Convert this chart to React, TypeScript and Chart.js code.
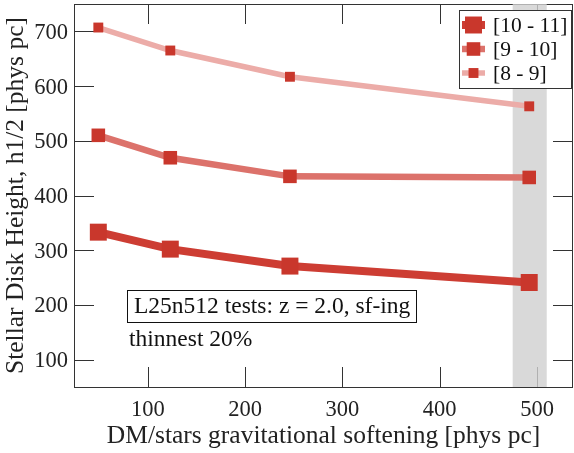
import React, { useEffect, useRef } from "react";
import { Chart, registerables } from "chart.js";

Chart.register(...registerables);

// ---- data ----
const softening = [49, 123, 246, 492];
const h10to11 = [333, 302, 271, 241];
const h9to10 = [510, 469, 435, 433];
const h8to9 = [707, 665, 617, 563];
const seriesLabels = ["[10 - 11]", "[9 - 10]", "[8 - 9]"];
const xTickValues = [100, 200, 300, 400, 500];
const yTickValues = [100, 200, 300, 400, 500, 600, 700];
const bandRange = [475, 510];
const noteBoxText = "L25n512 tests: z = 2.0, sf-ing";
const noteText = "thinnest 20%";
const xTitle = "DM/stars gravitational softening [phys pc]";
const yTitle = "Stellar Disk Height, h1/2 [phys pc]";

const FONT = "'Liberation Serif', 'DejaVu Serif', serif";
const MARKER = "#c9372c";
const LINE_COLORS = ["#cd3d33", "#dc726b", "#ecaca8"];
const LINE_WIDTHS = [8, 6.5, 5.5];
const MARKER_RADII = [12, 9.6, 7];
const TICK_LEN = 20;
const TEXT = "#222222";

const decorPlugin = {
  id: "decor",
  beforeDatasetsDraw(chart: any) {
    const { ctx, chartArea: a, scales } = chart;
    const x = scales.x;
    const y = scales.y;
    ctx.save();
    ctx.strokeStyle = "#333333";
    ctx.lineWidth = 1;
    ctx.beginPath();
    for (const v of xTickValues) {
      const px = Math.round(x.getPixelForValue(v)) + 0.5;
      ctx.moveTo(px, a.bottom);
      ctx.lineTo(px, a.bottom - TICK_LEN);
      ctx.moveTo(px, a.top);
      ctx.lineTo(px, a.top + TICK_LEN);
    }
    for (const v of yTickValues) {
      const py = Math.round(y.getPixelForValue(v)) + 0.5;
      ctx.moveTo(a.left, py);
      ctx.lineTo(a.left + TICK_LEN, py);
      ctx.moveTo(a.right, py);
      ctx.lineTo(a.right - TICK_LEN, py);
    }
    ctx.stroke();
    ctx.strokeRect(Math.round(a.left) + 0.5, Math.round(a.top) + 0.5, Math.round(a.right - a.left) - 1, Math.round(a.bottom - a.top));
    // tick labels
    ctx.fillStyle = TEXT;
    ctx.font = `22.5px ${FONT}`;
    ctx.textBaseline = "alphabetic";
    ctx.textAlign = "center";
    for (const v of xTickValues) {
      ctx.fillText(String(v), x.getPixelForValue(v), a.bottom + 29);
    }
    ctx.textAlign = "right";
    for (const v of yTickValues) {
      ctx.fillText(String(v), a.left - 6, y.getPixelForValue(v) + 7.5);
    }
    // shaded band
    const x0 = x.getPixelForValue(bandRange[0]);
    const x1 = x.getPixelForValue(bandRange[1]);
    ctx.fillStyle = "rgba(207,207,207,0.8)";
    ctx.fillRect(x0, a.top, x1 - x0, a.bottom - a.top);
    ctx.restore();
  },
  afterDraw(chart: any) {
    const { ctx } = chart;
    ctx.save();
    // annotation box
    ctx.font = `23.5px ${FONT}`;
    ctx.textBaseline = "middle";
    ctx.textAlign = "left";
    const tw = ctx.measureText(noteBoxText).width;
    const bx = 127, by = 290;
    const bw = Math.max(tw + 12, 289);
    ctx.fillStyle = "#ffffff";
    ctx.fillRect(bx, by, bw, 32);
    ctx.strokeStyle = "#111111";
    ctx.lineWidth = 1;
    ctx.strokeRect(bx + 0.5, by + 0.5, bw, 32);
    ctx.fillStyle = "#111111";
    ctx.fillText(noteBoxText, bx + 7, by + 17);
    ctx.fillText(noteText, 129, 340);

    // legend
    const lx = 459, ly = 10, lw = 112, lh = 78;
    ctx.fillStyle = "#ffffff";
    ctx.fillRect(lx, ly, lw, lh);
    ctx.strokeStyle = "#333333";
    ctx.strokeRect(lx + 0.5, ly + 0.5, lw, lh);
    const ds = chart.data.datasets;
    ds.forEach((d: any, i: number) => {
      const cy = 25 + i * 24;
      ctx.strokeStyle = d.borderColor;
      ctx.lineWidth = d.borderWidth;
      ctx.beginPath();
      ctx.moveTo(462, cy);
      ctx.lineTo(485, cy);
      ctx.stroke();
      const s = d.pointRadius * Math.SQRT1_2;
      ctx.fillStyle = MARKER;
      ctx.fillRect(473.5 - s, cy - s, 2 * s, 2 * s);
      ctx.fillStyle = "#111111";
      ctx.font = `21.5px ${FONT}`;
      ctx.textBaseline = "middle";
      ctx.fillText(d.label, 493, cy + 1);
    });
    ctx.restore();
  },
};

export default function App() {
  const ref = useRef<HTMLCanvasElement | null>(null);
  useEffect(() => {
    if (!ref.current) return;
    const series = [h10to11, h9to10, h8to9];
    const chart = new Chart(ref.current, {
      type: "line",
      data: {
        datasets: series.map((vals, i) => ({
          label: seriesLabels[i],
          data: softening.map((xv, j) => ({ x: xv, y: vals[j] })),
          borderColor: LINE_COLORS[i],
          borderWidth: LINE_WIDTHS[i],
          pointStyle: "rect",
          pointRadius: MARKER_RADII[i],
          pointBackgroundColor: MARKER,
          pointBorderWidth: 0,
          pointBorderColor: MARKER,
          tension: 0,
          fill: false,
        })),
      },
      options: {
        animation: false,
        responsive: false,
        layout: { autoPadding: false, padding: { top: 4, right: 1, left: 0, bottom: 0 } },
        plugins: { legend: { display: false }, tooltip: { enabled: false } },
        scales: {
          x: {
            type: "linear",
            min: 24,
            max: 537,
            grid: { display: false },
            border: { display: false },
            afterBuildTicks: (s: any) => {
              s.ticks = xTickValues.map((v) => ({ value: v }));
            },
            afterFit: (s: any) => {
              s.height = 66;
            },
            ticks: { display: false },
            title: {
              display: true,
              text: xTitle,
              font: { family: FONT, size: 25.5 },
              color: TEXT,
              padding: { top: 0, bottom: 1 },
            },
          },
          y: {
            type: "linear",
            min: 50,
            max: 750,
            grid: { display: false },
            border: { display: false },
            afterBuildTicks: (s: any) => {
              s.ticks = yTickValues.map((v) => ({ value: v }));
            },
            afterFit: (s: any) => {
              s.width = 74;
            },
            ticks: { display: false },
            title: {
              display: true,
              text: yTitle,
              font: { family: FONT, size: 25.5 },
              color: TEXT,
              padding: { top: 1, bottom: 0 },
            },
          },
        },
      },
      plugins: [decorPlugin],
    } as any);
    return () => chart.destroy();
  }, []);
  return (
    <div style={{ position: "absolute", left: 0, top: 0, width: 574, height: 453 }}>
      <canvas ref={ref} width={574} height={453} style={{ display: "block" }} />
    </div>
  );
}
